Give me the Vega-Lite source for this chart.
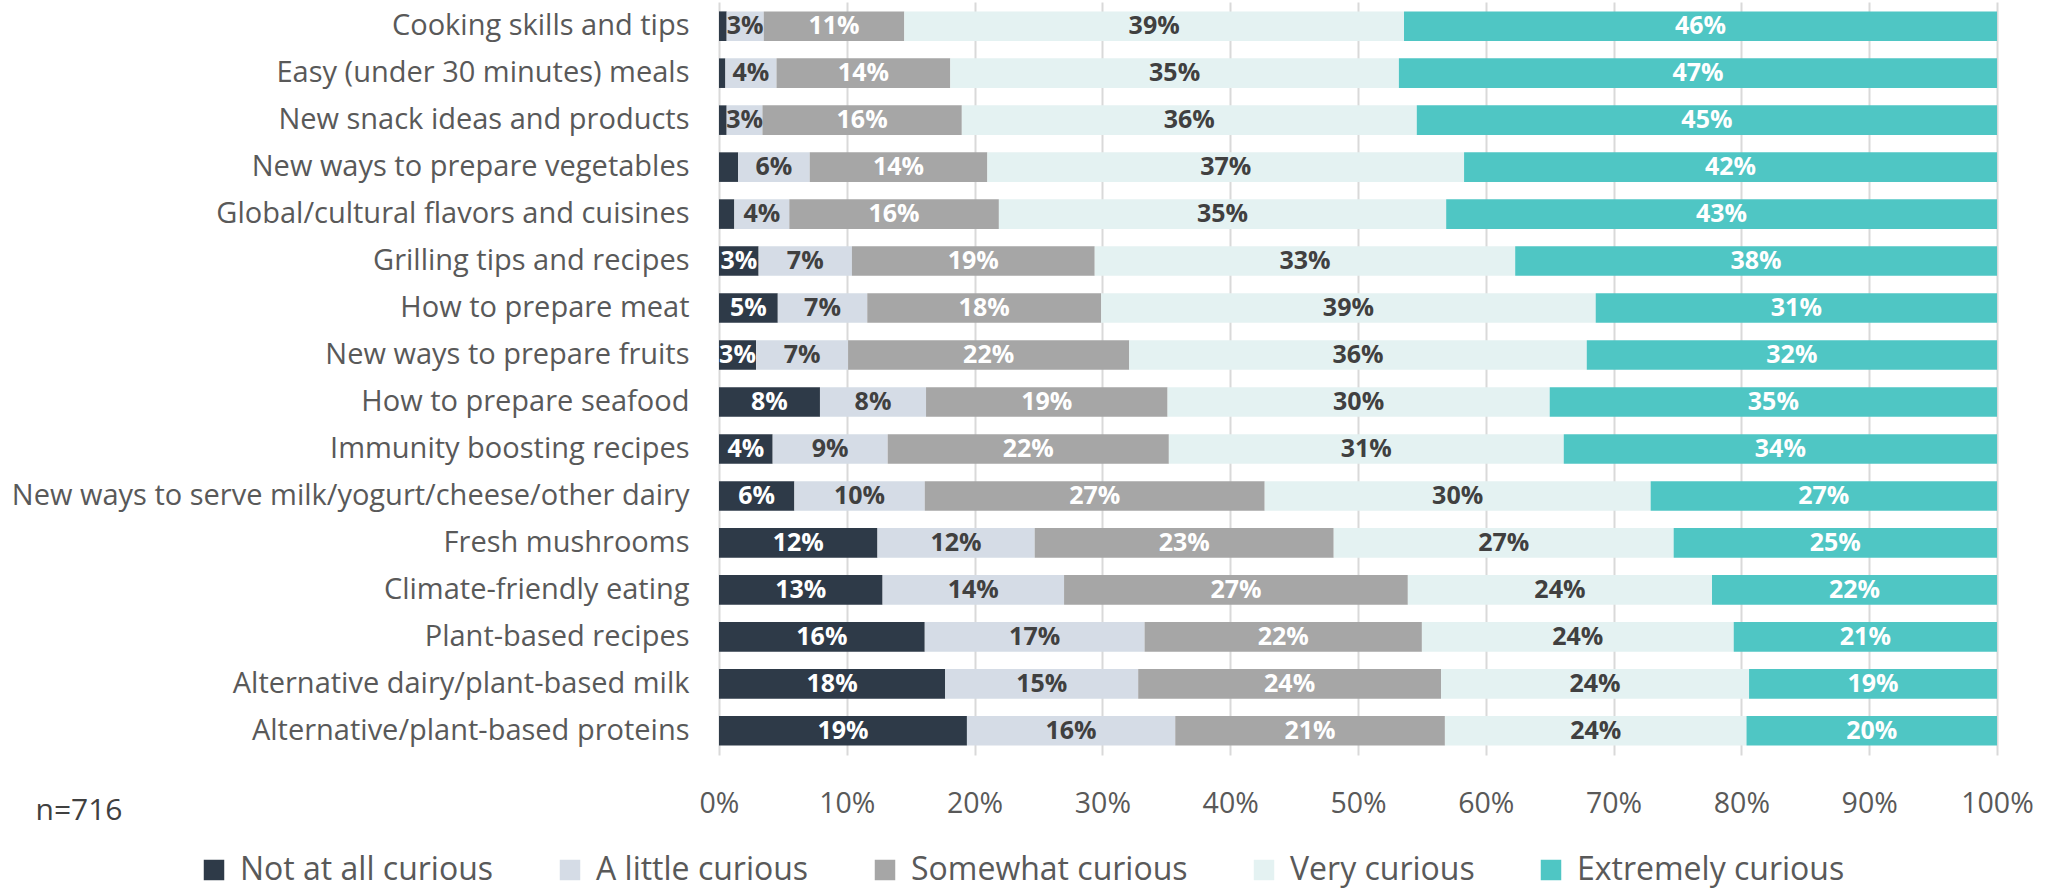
{
 "$schema": "https://vega.github.io/schema/vega-lite/v6.json",
 "width": 1278,
 "height": 753,
 "autosize": "none",
 "padding": {"left": 719, "top": 2, "right": 54, "bottom": 136},
 "background": "white",
 "config": {"view": {"stroke": null}, "font": "Open Sans"},
 "data": {"values": [
  {"item": "Cooking skills and tips", "response": "Not at all curious", "pct": 0.6},
  {"item": "Cooking skills and tips", "response": "A little curious", "pct": 2.9},
  {"item": "Cooking skills and tips", "response": "Somewhat curious", "pct": 11.0},
  {"item": "Cooking skills and tips", "response": "Very curious", "pct": 39.1},
  {"item": "Cooking skills and tips", "response": "Extremely curious", "pct": 46.4},
  {"item": "Easy (under 30 minutes) meals", "response": "Not at all curious", "pct": 0.5},
  {"item": "Easy (under 30 minutes) meals", "response": "A little curious", "pct": 4.0},
  {"item": "Easy (under 30 minutes) meals", "response": "Somewhat curious", "pct": 13.6},
  {"item": "Easy (under 30 minutes) meals", "response": "Very curious", "pct": 35.1},
  {"item": "Easy (under 30 minutes) meals", "response": "Extremely curious", "pct": 46.8},
  {"item": "New snack ideas and products", "response": "Not at all curious", "pct": 0.6},
  {"item": "New snack ideas and products", "response": "A little curious", "pct": 2.8},
  {"item": "New snack ideas and products", "response": "Somewhat curious", "pct": 15.6},
  {"item": "New snack ideas and products", "response": "Very curious", "pct": 35.6},
  {"item": "New snack ideas and products", "response": "Extremely curious", "pct": 45.4},
  {"item": "New ways to prepare vegetables", "response": "Not at all curious", "pct": 1.5},
  {"item": "New ways to prepare vegetables", "response": "A little curious", "pct": 5.6},
  {"item": "New ways to prepare vegetables", "response": "Somewhat curious", "pct": 13.9},
  {"item": "New ways to prepare vegetables", "response": "Very curious", "pct": 37.3},
  {"item": "New ways to prepare vegetables", "response": "Extremely curious", "pct": 41.7},
  {"item": "Global/cultural flavors and cuisines", "response": "Not at all curious", "pct": 1.2},
  {"item": "Global/cultural flavors and cuisines", "response": "A little curious", "pct": 4.3},
  {"item": "Global/cultural flavors and cuisines", "response": "Somewhat curious", "pct": 16.4},
  {"item": "Global/cultural flavors and cuisines", "response": "Very curious", "pct": 35.0},
  {"item": "Global/cultural flavors and cuisines", "response": "Extremely curious", "pct": 43.1},
  {"item": "Grilling tips and recipes", "response": "Not at all curious", "pct": 3.1},
  {"item": "Grilling tips and recipes", "response": "A little curious", "pct": 7.3},
  {"item": "Grilling tips and recipes", "response": "Somewhat curious", "pct": 19.0},
  {"item": "Grilling tips and recipes", "response": "Very curious", "pct": 32.9},
  {"item": "Grilling tips and recipes", "response": "Extremely curious", "pct": 37.7},
  {"item": "How to prepare meat", "response": "Not at all curious", "pct": 4.6},
  {"item": "How to prepare meat", "response": "A little curious", "pct": 7.0},
  {"item": "How to prepare meat", "response": "Somewhat curious", "pct": 18.3},
  {"item": "How to prepare meat", "response": "Very curious", "pct": 38.7},
  {"item": "How to prepare meat", "response": "Extremely curious", "pct": 31.4},
  {"item": "New ways to prepare fruits", "response": "Not at all curious", "pct": 2.9},
  {"item": "New ways to prepare fruits", "response": "A little curious", "pct": 7.2},
  {"item": "New ways to prepare fruits", "response": "Somewhat curious", "pct": 22.0},
  {"item": "New ways to prepare fruits", "response": "Very curious", "pct": 35.8},
  {"item": "New ways to prepare fruits", "response": "Extremely curious", "pct": 32.1},
  {"item": "How to prepare seafood", "response": "Not at all curious", "pct": 7.9},
  {"item": "How to prepare seafood", "response": "A little curious", "pct": 8.3},
  {"item": "How to prepare seafood", "response": "Somewhat curious", "pct": 18.9},
  {"item": "How to prepare seafood", "response": "Very curious", "pct": 29.9},
  {"item": "How to prepare seafood", "response": "Extremely curious", "pct": 35.0},
  {"item": "Immunity boosting recipes", "response": "Not at all curious", "pct": 4.2},
  {"item": "Immunity boosting recipes", "response": "A little curious", "pct": 9.0},
  {"item": "Immunity boosting recipes", "response": "Somewhat curious", "pct": 22.0},
  {"item": "Immunity boosting recipes", "response": "Very curious", "pct": 30.9},
  {"item": "Immunity boosting recipes", "response": "Extremely curious", "pct": 33.9},
  {"item": "New ways to serve milk/yogurt/cheese/other dairy", "response": "Not at all curious", "pct": 5.9},
  {"item": "New ways to serve milk/yogurt/cheese/other dairy", "response": "A little curious", "pct": 10.2},
  {"item": "New ways to serve milk/yogurt/cheese/other dairy", "response": "Somewhat curious", "pct": 26.6},
  {"item": "New ways to serve milk/yogurt/cheese/other dairy", "response": "Very curious", "pct": 30.2},
  {"item": "New ways to serve milk/yogurt/cheese/other dairy", "response": "Extremely curious", "pct": 27.1},
  {"item": "Fresh mushrooms", "response": "Not at all curious", "pct": 12.4},
  {"item": "Fresh mushrooms", "response": "A little curious", "pct": 12.3},
  {"item": "Fresh mushrooms", "response": "Somewhat curious", "pct": 23.4},
  {"item": "Fresh mushrooms", "response": "Very curious", "pct": 26.6},
  {"item": "Fresh mushrooms", "response": "Extremely curious", "pct": 25.3},
  {"item": "Climate-friendly eating", "response": "Not at all curious", "pct": 12.8},
  {"item": "Climate-friendly eating", "response": "A little curious", "pct": 14.2},
  {"item": "Climate-friendly eating", "response": "Somewhat curious", "pct": 26.9},
  {"item": "Climate-friendly eating", "response": "Very curious", "pct": 23.8},
  {"item": "Climate-friendly eating", "response": "Extremely curious", "pct": 22.3},
  {"item": "Plant-based recipes", "response": "Not at all curious", "pct": 16.1},
  {"item": "Plant-based recipes", "response": "A little curious", "pct": 17.2},
  {"item": "Plant-based recipes", "response": "Somewhat curious", "pct": 21.7},
  {"item": "Plant-based recipes", "response": "Very curious", "pct": 24.4},
  {"item": "Plant-based recipes", "response": "Extremely curious", "pct": 20.6},
  {"item": "Alternative dairy/plant-based milk", "response": "Not at all curious", "pct": 17.7},
  {"item": "Alternative dairy/plant-based milk", "response": "A little curious", "pct": 15.1},
  {"item": "Alternative dairy/plant-based milk", "response": "Somewhat curious", "pct": 23.7},
  {"item": "Alternative dairy/plant-based milk", "response": "Very curious", "pct": 24.1},
  {"item": "Alternative dairy/plant-based milk", "response": "Extremely curious", "pct": 19.4},
  {"item": "Alternative/plant-based proteins", "response": "Not at all curious", "pct": 19.4},
  {"item": "Alternative/plant-based proteins", "response": "A little curious", "pct": 16.3},
  {"item": "Alternative/plant-based proteins", "response": "Somewhat curious", "pct": 21.1},
  {"item": "Alternative/plant-based proteins", "response": "Very curious", "pct": 23.6},
  {"item": "Alternative/plant-based proteins", "response": "Extremely curious", "pct": 19.6}
 ]},
 "transform": [
  {"calculate": "indexof(['Not at all curious','A little curious','Somewhat curious','Very curious','Extremely curious'], datum.response)", "as": "k"},
  {"stack": "pct", "groupby": ["item"], "sort": [{"field": "k", "order": "ascending"}], "as": ["x0", "x1"]},
  {"calculate": "(datum.x0 + datum.x1) / 2", "as": "mid"},
  {"calculate": "format(datum.pct, '.0f') + '%'", "as": "label"}
 ],
 "encoding": {
  "y": {
   "field": "item", "type": "nominal",
   "sort": ["Cooking skills and tips", "Easy (under 30 minutes) meals", "New snack ideas and products", "New ways to prepare vegetables", "Global/cultural flavors and cuisines", "Grilling tips and recipes", "How to prepare meat", "New ways to prepare fruits", "How to prepare seafood", "Immunity boosting recipes", "New ways to serve milk/yogurt/cheese/other dairy", "Fresh mushrooms", "Climate-friendly eating", "Plant-based recipes", "Alternative dairy/plant-based milk", "Alternative/plant-based proteins"],
   "scale": {"paddingInner": 0.37, "paddingOuter": 0.2},
   "axis": {"title": null, "domain": false, "ticks": false, "labelFontSize": 29, "labelColor": "#595959", "labelPadding": 30, "labelLimit": 900}
  }
 },
 "layer": [
  {
   "mark": {"type": "bar"},
   "encoding": {
    "x": {
     "field": "x0", "type": "quantitative",
     "scale": {"domain": [0, 100], "nice": false},
     "axis": {"values": [0, 10, 20, 30, 40, 50, 60, 70, 80, 90, 100], "labelExpr": "datum.value + '%'", "grid": true, "gridColor": "#d9d9d9", "gridWidth": 2, "domain": false, "ticks": false, "labelFontSize": 28.5, "labelColor": "#595959", "labelPadding": 34, "labelFlush": false, "labelOverlap": false,
      "title": "n=716", "titleFontSize": 30, "titleFontWeight": "normal", "titleColor": "#404040", "titleAnchor": "start", "titleAlign": "left", "titleX": -684, "titleY": 55, "titleBaseline": "middle"}
    },
    "x2": {"field": "x1"},
    "color": {
     "field": "response", "type": "nominal",
     "scale": {"domain": ["Not at all curious", "A little curious", "Somewhat curious", "Very curious", "Extremely curious"], "range": ["#2e3a48", "#d5dce6", "#a6a6a6", "#e4f2f2", "#4fc6c4"]},
     "legend": {"orient": "none", "legendX": -521, "legendY": 852, "direction": "horizontal", "title": null, "symbolType": "square", "symbolSize": 420, "symbolStrokeWidth": 0, "labelFontSize": 32, "labelColor": "#595959", "labelOffset": 10, "columnPadding": 60, "labelLimit": 500}
    }
   }
  },
  {
   "transform": [{"filter": "datum.pct >= 2"}],
   "mark": {"type": "text", "fontWeight": "bold", "fontSize": 25, "baseline": "middle", "align": "center"},
   "encoding": {
    "x": {"field": "mid", "type": "quantitative"},
    "text": {"field": "label", "type": "nominal"},
    "color": {"condition": {"test": "datum.k == 1 || datum.k == 3", "value": "#404040"}, "value": "#ffffff"}
   }
  }
 ]
}
